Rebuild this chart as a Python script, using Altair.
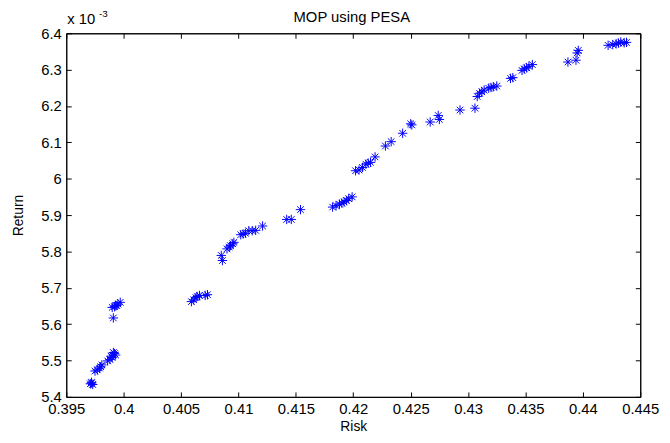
import altair as alt
import pandas as pd

risk = [0.3971, 0.3972, 0.3973, 0.3972,
        0.3975, 0.3977, 0.3979, 0.3981, 0.3980,
        0.3986, 0.3988, 0.3990, 0.3991, 0.3993, 0.3992, 0.3989,
        0.3991, 0.3990, 0.3992, 0.3993, 0.3994, 0.3995, 0.3997,
        0.4059, 0.4061, 0.4063, 0.4064, 0.4066, 0.4071, 0.4073,
        0.4086, 0.4085, 0.4090, 0.4092, 0.4093, 0.4095, 0.4096,
        0.4102, 0.4104, 0.4106, 0.4109, 0.4112, 0.4115, 0.4121,
        0.4142, 0.4146, 0.4154,
        0.4182, 0.4185, 0.4188, 0.4190, 0.4192, 0.4194, 0.4196, 0.4199,
        0.4202, 0.4205, 0.4208, 0.4211, 0.4213, 0.4215, 0.4219,
        0.4228, 0.4233, 0.4243, 0.4250, 0.4251,
        0.4267, 0.4274, 0.4275,
        0.4293, 0.4306,
        0.4308, 0.4310, 0.4312, 0.4314, 0.4318, 0.4320, 0.4322, 0.4325,
        0.4337, 0.4339,
        0.4347, 0.4349, 0.4351, 0.4353, 0.4356,
        0.4387, 0.4394, 0.4395, 0.4396,
        0.4422, 0.4426, 0.4429, 0.4431, 0.4433, 0.4436, 0.4438]
ret = [5.436, 5.438, 5.434, 5.440,
       5.471, 5.474, 5.479, 5.488, 5.483,
       5.499, 5.503, 5.508, 5.522, 5.515, 5.519, 5.512,
       5.617, 5.646, 5.648, 5.652, 5.651, 5.655, 5.660,
       5.662, 5.667, 5.673, 5.676, 5.679, 5.679, 5.681,
       5.775, 5.789, 5.807, 5.812, 5.816, 5.821, 5.825,
       5.846, 5.848, 5.850, 5.857, 5.857, 5.858, 5.870,
       5.888, 5.888, 5.915,
       5.922, 5.926, 5.930, 5.933, 5.936, 5.940, 5.945, 5.950,
       6.022, 6.024, 6.031, 6.040, 6.043, 6.045, 6.060,
       6.090, 6.102, 6.125, 6.151, 6.148,
       6.156, 6.174, 6.163,
       6.189, 6.194,
       6.226, 6.235, 6.239, 6.244, 6.249, 6.251, 6.253, 6.255,
       6.276, 6.278,
       6.298, 6.302, 6.305, 6.309, 6.314,
       6.321, 6.326, 6.346, 6.353,
       6.367, 6.369, 6.371, 6.373, 6.376, 6.374, 6.375]

x_ticks = [0.395, 0.4, 0.405, 0.41, 0.415, 0.42, 0.425, 0.43, 0.435, 0.44, 0.445]
y_ticks = [5.4, 5.5, 5.6, 5.7, 5.8, 5.9, 6.0, 6.1, 6.2, 6.3, 6.4]

title_text = ["MOP using PESA"]
exp_text = ["x 10"]
exp_sup_text = ["-3"]

df = pd.DataFrame({"risk": risk, "ret": ret})

FONT = "Liberation Sans"
ASTERISK = "M-1,0L1,0M0,-1L0,1M-0.7,-0.7L0.7,0.7M-0.7,0.7L0.7,-0.7"
NEG = {"expr": "-5"}

xs = alt.Scale(domain=[0.395, 0.445], nice=False, zero=False)
ys = alt.Scale(domain=[5.4, 6.4], nice=False, zero=False)

pts = alt.Chart(df).mark_point(
    shape=ASTERISK, size=90, filled=False, color="#0000ff", strokeWidth=1, opacity=1
).encode(
    x=alt.X("risk:Q", scale=xs, axis=alt.Axis(
        orient="bottom", values=x_ticks, format="~g", title="Risk",
        tickSize=NEG, labelPadding=10, titlePadding=3)),
    y=alt.Y("ret:Q", scale=ys, axis=alt.Axis(
        orient="left", values=y_ticks, format="~g", title="Return",
        tickSize=NEG, labelPadding=10, titlePadding=15)),
)

frame = alt.Chart(df).mark_point(opacity=0).encode(
    x=alt.X("risk:Q", scale=xs, axis=alt.Axis(
        orient="top", values=x_ticks, labels=False, title="", tickSize=NEG)),
    y=alt.Y("ret:Q", scale=ys, axis=alt.Axis(
        orient="right", values=y_ticks, labels=False, title="", tickSize=NEG)),
)

title_mark = alt.Chart(pd.DataFrame({"t": title_text})).mark_text(
    font=FONT, fontSize=15, align="center", baseline="alphabetic", color="black"
).encode(text="t:N", x=alt.value(289), y=alt.value(-11))

exp_base = alt.Chart(pd.DataFrame({"t": exp_text})).mark_text(
    font=FONT, fontSize=15, align="left", baseline="alphabetic", color="black"
).encode(text="t:N", x=alt.value(1), y=alt.value(-9))

exp_sup = alt.Chart(pd.DataFrame({"t": exp_sup_text})).mark_text(
    font=FONT, fontSize=10, align="left", baseline="alphabetic", color="black"
).encode(text="t:N", x=alt.value(33), y=alt.value(-16))

chart = alt.layer(pts, frame, title_mark, exp_base, exp_sup).resolve_scale(
    x="independent", y="independent"
).properties(
    width=581, height=368,
    autosize=alt.AutoSizeParams(type="none"),
    padding={"left": 59, "top": 23, "right": 22, "bottom": 36},
).configure_view(
    stroke="black", strokeWidth=1
).configure_axis(
    grid=False, domainColor="black", tickColor="black", labelColor="black",
    titleColor="black", labelFont=FONT, titleFont=FONT, labelFontSize=15,
    titleFontSize=14, titleFontWeight="normal", labelFlush=False, labelOverlap=False,
    domainWidth=1, tickWidth=1
)

chart.save("out.html", embed_options={"renderer": "svg", "actions": False})
